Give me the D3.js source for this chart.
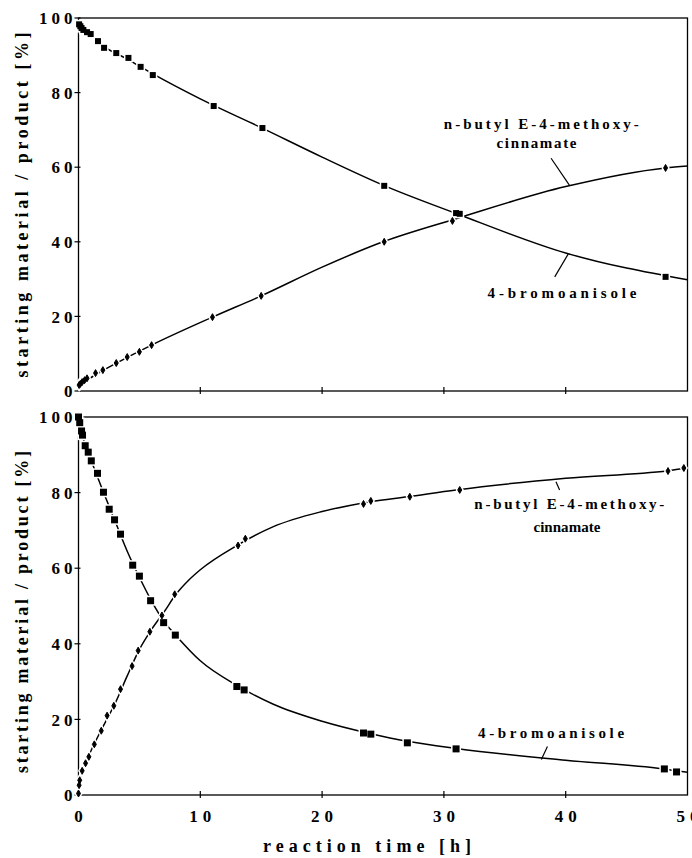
<!DOCTYPE html>
<html><head><meta charset="utf-8">
<script src="https://cdn.jsdelivr.net/npm/d3@7"></script>
<style>
body{margin:0;background:#fff}
svg{display:block}
svg text{font-family:"Liberation Serif","DejaVu Serif",serif;font-weight:bold;fill:#000}
</style>
</head><body>
<svg id="c" width="692" height="858"></svg>
<script>
// ---------- data ----------
const xTickValues = [0, 10, 20, 30, 40, 50];
const yTickValues = [0, 20, 40, 60, 80, 100];
const xTickLabels = ["0", "10", "20", "30", "40", "50"];
const yTickLabels = ["0", "20", "40", "60", "80", "100"];
const xTitle = "reaction time [h]";
const yTitle = "starting material / product [%]";
const bromoName = "4-bromoanisole";
const prodName1 = "n-butyl E-4-methoxy-";
const prodName2 = "cinnamate";

// upper panel: measured points
const aBromoTime = [0.05,0.15,0.25,0.4,0.7,1.0,1.6,2.1,3.1,4.1,5.1,6.1,11.1,15.1,25.1,31.0,31.3,48.2];
const aBromoPct  = [98.3,97.8,97.3,96.8,96.2,95.7,93.8,92.0,90.6,89.3,86.9,84.7,76.4,70.5,55.0,47.7,47.5,30.6];
const aProdTime  = [0.05,0.15,0.3,0.5,0.7,1.4,2.0,3.1,4.0,5.0,6.0,11.0,15.0,25.1,30.7,48.2];
const aProdPct   = [1.6,1.9,2.4,2.9,3.4,4.8,5.6,7.5,9.1,10.5,12.3,19.8,25.5,40.0,45.6,59.8];
// upper panel: fitted curves
const aBromoFitTime = [0,1,2,4,6,10,15,20,25,31,40,50];
const aBromoFitPct  = [98.5,95.6,92.6,89.0,85.2,78.3,70.6,62.7,55.2,47.6,37.0,29.8];
const aProdFitTime  = [0,2,4,6,11,15,20,25,31,40,48.2,50];
const aProdFitPct   = [1.5,5.5,9.0,12.3,19.8,25.5,33.2,40.0,46.2,54.8,59.8,60.3];

// lower panel: measured points
const bBromoTime = [0,0.1,0.25,0.33,0.55,0.8,1.05,1.56,2.05,2.52,2.96,3.45,4.45,5.0,5.92,6.99,7.95,13.0,13.6,23.4,24.0,27.0,31.0,48.1,49.1];
const bBromoPct  = [100,98.5,96.3,95.2,92.4,90.7,88.4,85.1,80.1,75.6,72.8,69.0,60.8,57.9,51.4,45.6,42.3,28.7,27.8,16.4,16.1,13.8,12.2,6.9,6.1];
const bProdTime  = [0,0.05,0.1,0.3,0.58,0.85,1.3,1.87,2.35,2.9,3.45,4.4,4.9,5.86,6.85,7.9,13.1,13.7,23.4,24.0,27.2,31.3,48.4,49.7];
const bProdPct   = [0.4,2.6,3.9,6.4,8.4,10.1,13.4,17.0,21.0,23.6,28.0,34.1,38.2,43.2,47.5,53.1,66.0,67.8,77.0,77.8,78.9,80.7,85.7,86.5];
// lower panel: fitted curves
const bBromoFitTime = [0,0.5,1,2,3,4,5,6,7,8,10,13,16,20,24,27,31,40,48,50];
const bBromoFitPct  = [100,93,88.8,80.5,72.5,64.5,57.6,51.3,46,42.2,35.5,29,24,19.5,16.2,14.2,12.3,9.2,6.9,6.0];
const bProdFitTime  = [0,0.3,1,2,3,4,5,6,7,8,9,10,13,16,20,24,27,31,40,48.4,50];
const bProdFitPct   = [0,6,11.5,18,24.2,31.5,38.5,43.8,48.3,53.1,56.7,59.6,66,71,75,77.6,78.9,80.7,83.8,85.8,86.5];

// ---------- layout ----------
const svg = d3.select("#c");
const FONT = '"Liberation Serif","DejaVu Serif",serif';
const X0 = 78.5, X1 = 687.5;
const zip = (t, v) => t.map((d, i) => ({t: d, v: v[i]}));

const panels = [
  {top: 18, bottom: 391, xLabels: false, sq: 6,
   bromo: zip(aBromoTime, aBromoPct), prod: zip(aProdTime, aProdPct),
   bromoFit: zip(aBromoFitTime, aBromoFitPct), prodFit: zip(aProdFitTime, aProdFitPct),
   yTitle: {c: 205, len: 345},
   ann: {p1: [38.0, 70.2], p2: [37.6, 65.1], pLen1: 195, pLen2: 80, pLead: [[38.8, 62.4], [40.3, 55.2]],
         b: [39.7, 24.9], bLen: 149, bLead: [[39.1, 30.6], [40.2, 36.7]]}},
  {top: 417, bottom: 795, xLabels: true, sq: 7,
   bromo: zip(bBromoTime, bBromoPct), prod: zip(bProdTime, bProdPct),
   bromoFit: zip(bBromoFitTime, bBromoFitPct), prodFit: zip(bProdFitTime, bProdFitPct),
   yTitle: {c: 612, len: 322},
   ann: {p1: [40.3, 75.7], p2: [40.1, 69.6], pLen1: 190, pLen2: 67, pLead: [[39.2, 82.9], [39.5, 80.7]],
         b: [38.8, 15.1], bLen: 146, bLead: [[38.5, 12.8], [38.0, 9.4]]}}
];

function spaced(sel, gap) {
  sel.each(function() {
    const n = this.textContent.length;
    const w = this.getComputedTextLength();
    d3.select(this).attr("textLength", w + (n - 1) * gap).attr("lengthAdjust", "spacing");
  });
}

panels.forEach(p => {
  const x = d3.scaleLinear().domain([0, 50]).range([X0, X1]);
  const y = d3.scaleLinear().domain([0, 100]).range([p.bottom, p.top]);
  const g = svg.append("g").attr("font-family", FONT).attr("font-weight", "bold");

  // frame
  g.append("rect").attr("x", X0).attr("y", p.top).attr("width", X1 - X0).attr("height", p.bottom - p.top)
    .attr("fill", "none").attr("stroke", "#000").attr("stroke-width", 1.3);

  // y ticks
  g.selectAll(".yt").data(yTickValues).enter().append("line")
    .attr("x1", X0 - 4).attr("x2", X0 + 2).attr("y1", d => y(d)).attr("y2", d => y(d))
    .attr("stroke", "#000").attr("stroke-width", 1.2);
  g.selectAll(".yl").data(yTickValues).enter().append("text")
    .attr("x", X0 - 6).attr("y", d => y(d)).attr("dy", "0.36em")
    .attr("text-anchor", "end").attr("font-size", 17)
    .text((d, i) => yTickLabels[i]).call(spaced, 4);

  // x ticks
  g.selectAll(".xt").data(xTickValues.slice(1, -1)).enter().append("line")
    .attr("x1", d => x(d)).attr("x2", d => x(d)).attr("y1", p.bottom - 4).attr("y2", p.bottom + 3)
    .attr("stroke", "#000").attr("stroke-width", 1.2);
  if (p.xLabels) {
    g.selectAll(".xl").data(xTickValues).enter().append("text")
      .attr("x", d => x(d)).attr("y", p.bottom + 27)
      .attr("text-anchor", "middle").attr("font-size", 17)
      .text((d, i) => xTickLabels[i]).call(spaced, 5);
  }

  // y title
  g.append("text").attr("transform", `translate(28,${p.yTitle.c}) rotate(-90)`)
    .attr("text-anchor", "middle").attr("font-size", 18)
    .attr("textLength", p.yTitle.len).attr("lengthAdjust", "spacing")
    .text(yTitle);

  // fitted curves
  const line = d3.line().x(d => x(d.t)).y(d => y(d.v)).curve(d3.curveMonotoneX);
  [p.bromoFit, p.prodFit].forEach(fit => {
    g.append("path").datum(fit).attr("d", line)
      .attr("fill", "none").attr("stroke", "#000").attr("stroke-width", 1.5);
  });

  // marker halos (gaps in line around markers)
  const s = p.sq;
  g.selectAll(".hb").data(p.bromo).enter().append("rect")
    .attr("x", d => x(d.t) - s / 2 - 1.5).attr("y", d => y(d.v) - s / 2 - 1.5)
    .attr("width", s + 3).attr("height", s + 3).attr("fill", "#fff");
  const dia = d3.symbol().type(d3.symbolDiamond).size(14);
  const diaHalo = d3.symbol().type(d3.symbolDiamond).size(60);
  g.selectAll(".hp").data(p.prod).enter().append("path")
    .attr("d", diaHalo).attr("transform", d => `translate(${x(d.t)},${y(d.v)})`).attr("fill", "#fff");

  // markers
  g.selectAll(".mb").data(p.bromo).enter().append("rect")
    .attr("x", d => x(d.t) - s / 2).attr("y", d => y(d.v) - s / 2)
    .attr("width", s).attr("height", s).attr("fill", "#000");
  g.selectAll(".mp").data(p.prod).enter().append("path")
    .attr("d", dia).attr("transform", d => `translate(${x(d.t)},${y(d.v)})`)
    .attr("fill", "#000").attr("stroke", "#000").attr("stroke-width", 1);

  // annotations
  const a = p.ann;
  g.append("text").attr("x", x(a.p1[0])).attr("y", y(a.p1[1])).attr("text-anchor", "middle")
    .attr("font-size", 15).attr("textLength", a.pLen1).attr("lengthAdjust", "spacing").text(prodName1);
  g.append("text").attr("x", x(a.p2[0])).attr("y", y(a.p2[1])).attr("text-anchor", "middle")
    .attr("font-size", 15).attr("textLength", a.pLen2).attr("lengthAdjust", "spacing").text(prodName2);
  g.append("text").attr("x", x(a.b[0])).attr("y", y(a.b[1])).attr("text-anchor", "middle")
    .attr("font-size", 15).attr("textLength", a.bLen).attr("lengthAdjust", "spacing").text(bromoName);
  [a.pLead, a.bLead].forEach(l => {
    g.append("line").attr("x1", x(l[0][0])).attr("y1", y(l[0][1]))
      .attr("x2", x(l[1][0])).attr("y2", y(l[1][1]))
      .attr("stroke", "#000").attr("stroke-width", 1.2);
  });
});

// x title
svg.append("text").attr("x", 367).attr("y", 852).attr("text-anchor", "middle")
  .attr("font-family", FONT).attr("font-weight", "bold")
  .attr("font-size", 18).attr("textLength", 208).attr("lengthAdjust", "spacing").text(xTitle);
</script>
</body></html>
